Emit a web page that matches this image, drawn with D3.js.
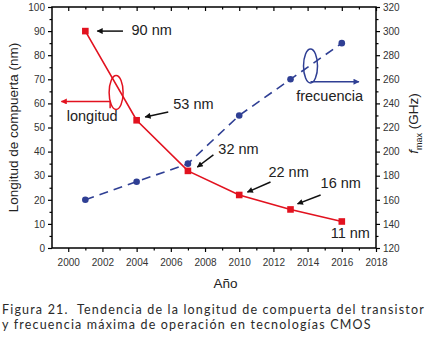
<!DOCTYPE html>
<html>
<head>
<meta charset="utf-8">
<script src="https://cdn.jsdelivr.net/npm/d3@7"></script>
<style>
  body { margin: 0; background: #fff; }
  svg text { font-family: "Liberation Sans", Arial, sans-serif; }
  svg text.caption { font-family: Lato, "Open Sans", sans-serif; fill: #2a2a2a; }
</style>
</head>
<body>
<svg id="chart" width="427" height="344"></svg>
<script>
// data
const years = [2001, 2004, 2007, 2010, 2013, 2016];
const longitud = [90, 53, 32, 22, 16, 11];          // nm
const frecuencia = [160, 175, 190, 230, 260, 290];  // GHz
const nodeLabels = ["90 nm", "53 nm", "32 nm", "22 nm", "16 nm", "11 nm"];
const xTicks = d3.range(2000, 2019, 2);
const captionLines = [
  "Figura 21.  Tendencia de la longitud de compuerta del transistor",
  "y frecuencia máxima de operación en tecnologías CMOS"
];

const margin = {top: 7, right: 51, bottom: 96, left: 52};
const width = 427 - margin.left - margin.right;
const height = 344 - margin.top - margin.bottom;

const red = "#e2121f", blue = "#2f3f94";
const noteSize = 14.5;

const svg = d3.select("#chart");
const g = svg.append("g").attr("transform", `translate(${margin.left},${margin.top})`);

const x = d3.scaleLinear().domain([1999.05, 2018]).range([0, width]);
const yL = d3.scaleLinear().domain([0, 100]).range([height, 0]);
const yR = d3.scaleLinear().domain([120, 320]).range([height, 0]);

// frame
g.append("rect").attr("width", width).attr("height", height)
  .attr("fill", "none").attr("stroke", "#000").attr("stroke-width", 1.5);

function styleAxis(sel) {
  sel.select(".domain").remove();
  sel.selectAll("line").attr("stroke", "#000").attr("stroke-width", 1.2);
  sel.selectAll("text").attr("font-size", 10).attr("fill", "#333");
}

// bottom axis
g.append("g").attr("transform", `translate(0,${height})`)
  .call(d3.axisBottom(x).tickValues(xTicks).tickFormat(d3.format("d")).tickSize(4).tickPadding(7))
  .call(styleAxis);
g.append("g").attr("transform", `translate(0,${height})`)
  .call(d3.axisBottom(x).tickValues(d3.range(2001, 2018, 2)).tickFormat("").tickSize(2.5))
  .call(styleAxis);
// top axis (inner ticks)
g.append("g")
  .call(d3.axisBottom(x).tickValues(xTicks).tickFormat("").tickSize(4))
  .call(styleAxis);
g.append("g")
  .call(d3.axisBottom(x).tickValues(d3.range(2001, 2018, 2)).tickFormat("").tickSize(2.5))
  .call(styleAxis);

// left axis
g.append("g")
  .call(d3.axisLeft(yL).tickValues(d3.range(0, 101, 10)).tickSize(4).tickPadding(3))
  .call(styleAxis);
g.append("g")
  .call(d3.axisLeft(yL).tickValues(d3.range(5, 100, 10)).tickFormat("").tickSize(2.5))
  .call(styleAxis);

// right axis
g.append("g").attr("transform", `translate(${width},0)`)
  .call(d3.axisRight(yR).tickValues(d3.range(120, 321, 20)).tickSize(4).tickPadding(3))
  .call(styleAxis);
g.append("g").attr("transform", `translate(${width},0)`)
  .call(d3.axisRight(yR).tickValues(d3.range(130, 320, 20)).tickFormat("").tickSize(2.5))
  .call(styleAxis);

// axis titles
svg.append("text")
  .attr("transform", `translate(18,${margin.top + height / 2}) rotate(-90)`)
  .attr("text-anchor", "middle").attr("font-size", 13.5).attr("fill", "#222")
  .text("Longitud de compuerta (nm)");
const rt = svg.append("text")
  .attr("transform", `translate(418,${margin.top + height / 2 - 4}) rotate(-90)`)
  .attr("text-anchor", "middle").attr("font-size", 13.5).attr("fill", "#222");
rt.append("tspan").attr("font-style", "italic").text("f");
rt.append("tspan").attr("font-size", 9).attr("dy", 4).text("max");
rt.append("tspan").attr("dy", -4).text(" (GHz)");
svg.append("text")
  .attr("x", margin.left + x(2009.2)).attr("y", 288)
  .attr("text-anchor", "middle").attr("font-size", 13.5).attr("fill", "#222")
  .text("Año");

// frequency series (dashed)
const fData = years.map((yr, i) => ({yr, v: frecuencia[i]}));
g.append("path").datum(fData)
  .attr("fill", "none").attr("stroke", blue).attr("stroke-width", 1.6)
  .attr("stroke-dasharray", "9,6")
  .attr("d", d3.line().x(d => x(d.yr)).y(d => yR(d.v)));
g.selectAll(".fpt").data(fData).join("circle")
  .attr("cx", d => x(d.yr)).attr("cy", d => yR(d.v)).attr("r", 3.3).attr("fill", blue);

// length series
const lData = years.map((yr, i) => ({yr, v: longitud[i], label: nodeLabels[i]}));
g.append("path").datum(lData)
  .attr("fill", "none").attr("stroke", red).attr("stroke-width", 1.6)
  .attr("d", d3.line().x(d => x(d.yr)).y(d => yL(d.v)));
g.selectAll(".lpt").data(lData).join("rect")
  .attr("x", d => x(d.yr) - 3.3).attr("y", d => yL(d.v) - 3.3)
  .attr("width", 6.6).attr("height", 6.6).attr("fill", red);

// arrow markers
const defs = svg.append("defs");
[["ak", "#111"], ["ar", red], ["ab", blue]].forEach(([id, c]) => {
  defs.append("marker").attr("id", id).attr("viewBox", "0 0 10 10")
    .attr("refX", 9).attr("refY", 5).attr("markerWidth", 8).attr("markerHeight", 6)
    .attr("markerUnits", "userSpaceOnUse").attr("orient", "auto")
    .append("path").attr("d", "M0,0L10,5L0,10Z").attr("fill", c);
});

// node annotations: label offset (years, nm) and arrow tail/head offsets, relative to point
const notes = [
  {i: 0, tx: 2.7, ty: -1.5, ax0: [2.2, 0], ax1: [0.7, 0]},
  {i: 1, tx: 2.14, ty: 4.7, ax0: [1.85, 3.4], ax1: [0.5, 1.4]},
  {i: 2, tx: 1.78, ty: 6.8, ax0: [1.49, 6.6], ax1: [0.55, 1.6]},
  {i: 3, tx: 1.71, ty: 7.5, ax0: [1.83, 5.4], ax1: [0.48, 1.2]},
  {i: 4, tx: 1.76, ty: 8.9, ax0: [1.76, 6], ax1: [0.41, 2.3]},
  {i: 5, tx: -0.65, ty: -7.0}
];
notes.forEach(n => {
  const d = lData[n.i];
  g.append("text").attr("x", x(d.yr + n.tx)).attr("y", yL(d.v + n.ty))
    .attr("font-size", noteSize).attr("fill", "#222").text(d.label);
  if (n.ax0) {
    g.append("line")
      .attr("x1", x(d.yr + n.ax0[0])).attr("y1", yL(d.v + n.ax0[1]))
      .attr("x2", x(d.yr + n.ax1[0])).attr("y2", yL(d.v + n.ax1[1]))
      .attr("stroke", "#111").attr("stroke-width", 1.5).attr("marker-end", "url(#ak)");
  }
});

// series callouts (ellipse + arrow to its axis)
g.append("ellipse").attr("cx", x(2002.8)).attr("cy", yL(64.5)).attr("rx", 7).attr("ry", 17)
  .attr("fill", "none").attr("stroke", red).attr("stroke-width", 1.5);
g.append("path").attr("d", `M${x(2002.45)},${yL(58)}V${yL(60.8)}H${x(1999.6)}`)
  .attr("fill", "none").attr("stroke", red).attr("stroke-width", 1.5).attr("marker-end", "url(#ar)");
g.append("text").attr("x", x(2001.4)).attr("y", yL(52.5)).attr("text-anchor", "middle")
  .attr("font-size", noteSize).attr("fill", "#222").text("longitud");

g.append("ellipse").attr("cx", x(2014.17)).attr("cy", yR(271)).attr("rx", 7).attr("ry", 17)
  .attr("fill", "none").attr("stroke", blue).attr("stroke-width", 1.5);
g.append("line").attr("x1", x(2014.17)).attr("y1", yR(258)).attr("x2", x(2017.0)).attr("y2", yR(258))
  .attr("stroke", blue).attr("stroke-width", 1.5).attr("marker-end", "url(#ab)");
g.append("text").attr("x", x(2015.29)).attr("y", yR(242)).attr("text-anchor", "middle")
  .attr("font-size", noteSize).attr("fill", "#222").text("frecuencia");

// caption: first line spread to span the page width
const cap = svg.selectAll(".caption").data(captionLines).join("text")
  .attr("class", "caption").attr("x", 2).attr("y", (d, i) => 314 + i * 15)
  .attr("font-size", 12.5).attr("xml:space", "preserve").text(d => d);
const w0 = cap.node().getComputedTextLength();
const n0 = captionLines[0].length;
cap.attr("letter-spacing", Math.max(0, (423 - w0) / n0).toFixed(2));
</script>
</body>
</html>
